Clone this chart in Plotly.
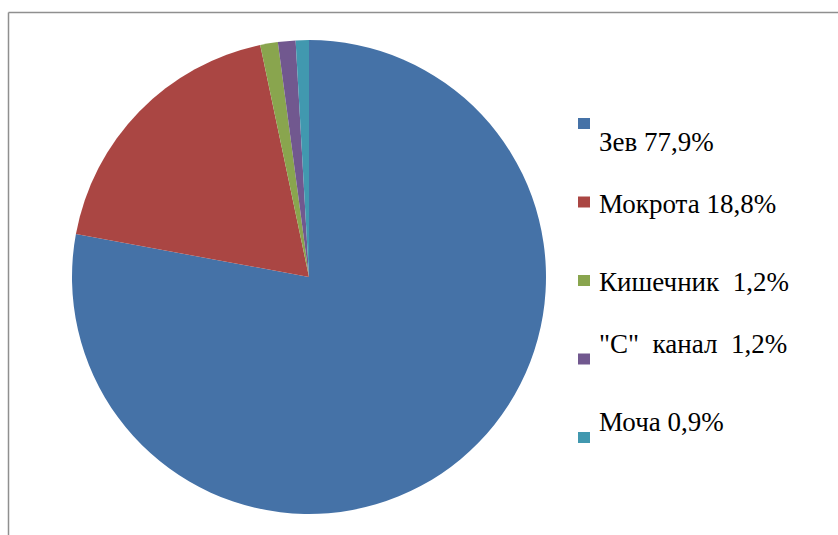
import plotly.graph_objects as go

# Sample sources and their share, %
labels = ["Зев", "Мокрота", "Кишечник", "С канал", "Моча"]
values = [77.9, 18.8, 1.2, 1.2, 0.9]
legend_text = ["Зев 77,9%", "Мокрота 18,8%", "Кишечник  1,2%", "\"С\"  канал  1,2%", "Моча 0,9%"]
colors = ["#4572A7", "#AA4643", "#89A54E", "#71588F", "#4198AF"]

W, H = 838, 535
SERIF = "Liberation Serif"

fig = go.Figure(
    go.Pie(
        labels=labels,
        values=values,
        sort=False,
        direction="clockwise",
        rotation=0,
        textinfo="none",
        marker=dict(colors=colors, line=dict(width=0)),
        domain=dict(x=[72 / W, 546 / W], y=[21 / H, 495 / H]),
        showlegend=False,
    )
)

# Legend: one square swatch and label per category
y0, step = 124, 78.5
for i, (txt, col) in enumerate(zip(legend_text, colors)):
    yc = y0 + i * step
    fig.add_annotation(x=597 / W, y=1 - (yc + 1) / H, xref="paper", yref="paper",
                       xanchor="left", showarrow=False, text=txt,
                       font=dict(family=SERIF, size=27, color="#000000"))
    fig.add_shape(type="rect", xref="paper", yref="paper",
                  x0=578 / W, x1=590 / W, y0=1 - (yc + 5) / H, y1=1 - (yc - 6) / H,
                  fillcolor=col, line=dict(width=0))

# chart frame (left and top edges)
fig.add_shape(type="line", xref="paper", yref="paper", x0=8.5 / W, x1=8.5 / W, y0=0, y1=1 - 12.5 / H,
              line=dict(color="#8f8f8f", width=1.5))
fig.add_shape(type="line", xref="paper", yref="paper", x0=8.5 / W, x1=1, y0=1 - 12.5 / H, y1=1 - 12.5 / H,
              line=dict(color="#8f8f8f", width=1.5))

fig.update_layout(width=W, height=H, margin=dict(l=0, r=0, t=0, b=0))

fig.write_html("out.html")
